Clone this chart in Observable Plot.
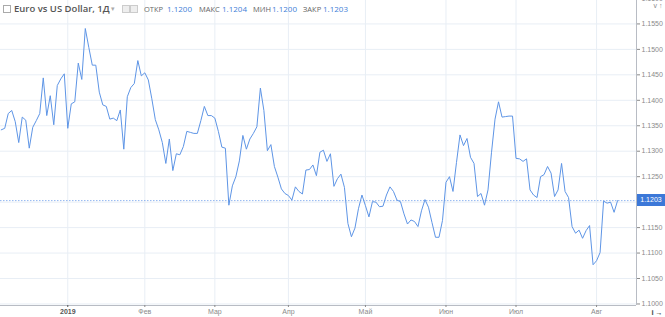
<!DOCTYPE html>
<html><head><meta charset="utf-8">
<script src="https://cdn.jsdelivr.net/npm/d3@7"></script>
<script src="https://cdn.jsdelivr.net/npm/@observablehq/plot@0.6"></script>
<style>
body{margin:0;background:#fff;}
#wrap{position:relative;width:665px;height:317px;overflow:hidden;background:#fff;}
#title span{position:absolute;top:2px;white-space:nowrap;font-family:"Open Sans",sans-serif;line-height:14px;}
.t{font-size:9.5px;font-weight:600;color:#555;}
.l{font-size:7.5px;color:#666;}
.a{font-size:7px;color:#aaa;}
.v{font-size:8px;color:#3f7fd8;}
.ic{display:inline-block;width:6px;height:6px;border:1px solid #aaa;top:5px !important;}
.ic2{display:inline-block;width:6px;height:6px;border:1px solid #ccc;background:#eee;top:5px !important;}
#price{position:absolute;background:#3c78d8;color:#fff;font-family:'Liberation Sans',Arial,sans-serif;font-size:7px;line-height:12px;height:12px;text-align:center;}
</style></head><body>
<div id="wrap"><div id="chart"></div>
<div id="title"></div><div id="price"></div></div>
<script>
const closes = [
1.1342,1.1345,1.1374,1.1380,1.1358,1.1317,1.1367,1.1361,1.1306,1.1347,
1.1360,1.1374,1.1444,1.1370,1.1409,1.1352,1.1429,1.1442,1.1452,1.1345,
1.1393,1.1397,1.1473,1.1441,1.1541,1.1504,1.1469,1.1469,1.1416,1.1391,
1.1388,1.1363,1.1365,1.1360,1.1381,1.1304,1.1407,1.1425,1.1433,1.1478,
1.1448,1.1454,1.1440,1.1403,1.1362,1.1342,1.1317,1.1276,1.1324,1.1262,
1.1295,1.1293,1.1309,1.1339,1.1337,1.1335,1.1335,1.1360,1.1388,1.1370,
1.1370,1.1365,1.1339,1.1308,1.1306,1.1194,1.1232,1.1250,1.1281,1.1331,
1.1304,1.1324,1.1335,1.1348,1.1424,1.1380,1.1301,1.1313,1.1270,1.1249,
1.1226,1.1217,1.1213,1.1204,1.1230,1.1221,1.1216,1.1263,1.1264,1.1273,
1.1252,1.1298,1.1302,1.1280,1.1295,1.1231,1.1246,1.1255,1.1229,1.1158,
1.1132,1.1149,1.1187,1.1214,1.1193,1.1171,1.1201,1.1200,1.1191,1.1192,
1.1214,1.1230,1.1221,1.1204,1.1201,1.1177,1.1157,1.1165,1.1162,1.1152,
1.1183,1.1205,1.1190,1.1160,1.1131,1.1131,1.1164,1.1239,1.1250,1.1221,
1.1278,1.1332,1.1311,1.1325,1.1288,1.1276,1.1211,1.1217,1.1194,1.1224,
1.1298,1.1363,1.1397,1.1367,1.1368,1.1369,1.1369,1.1286,1.1285,1.1280,
1.1285,1.1224,1.1214,1.1209,1.1250,1.1254,1.1270,1.1257,1.1211,1.1224,
1.1276,1.1221,1.1209,1.1152,1.1139,1.1145,1.1129,1.1144,1.1154,1.1077,
1.1085,1.1101,1.1202,1.1198,1.1200,1.1180,1.1203
];
const monthTicks = [19, 41, 61, 82, 104, 127, 147, 170];
const monthLabels = ["2019", "Фев", "Мар", "Апр", "Май", "Июн", "Июл", "Авг"];
const yTicks = [1.100,1.105,1.110,1.115,1.120,1.125,1.130,1.135,1.140,1.145,1.150,1.155,1.160];
const titleText = "Euro vs US Dollar, 1Д";
const ohlcLabels = ["ОТКР", "МАКС", "МИН", "ЗАКР"];
const ohlcValues = ["1.1200", "1.1204", "1.1200", "1.1203"];

const data = closes.map((v, i) => ({i, v}));
const last = closes[closes.length - 1];
const xDomain = [-0.21, 181.4];
const yDomain = [1.0997, 1.1596];
const W = 665, H = 317, MR = 29, MB = 12;
const gridColor = "#e8eef5";
const axisColor = "#b8bcc4";
const lineColor = "#5e95e6";

const chart = Plot.plot({
  width: W, height: H,
  marginLeft: 0, marginRight: MR, marginTop: 0, marginBottom: MB,
  style: {background: "#fff", fontFamily: "'Liberation Sans', Arial, sans-serif"},
  x: {domain: xDomain, axis: null},
  y: {domain: yDomain, axis: null},
  marks: [
    Plot.gridY(yTicks, {stroke: gridColor, strokeOpacity: 1}),
    Plot.gridX(monthTicks, {stroke: gridColor, strokeOpacity: 1}),
    Plot.ruleY([last], {stroke: "#4a86e8", strokeDasharray: "1.5,1.5", strokeOpacity: 0.6}),
    Plot.line(data, {x: "i", y: "v", stroke: lineColor, strokeWidth: 1}),
    Plot.ruleX([xDomain[1]], {stroke: axisColor}),
    Plot.ruleY([yDomain[0]], {stroke: axisColor}),
    Plot.axisY(yTicks.filter(t => Math.abs(t - last) > 0.002), {anchor: "right", tickFormat: d3.format(".4f"), tickSize: 3, tickPadding: 2, fontSize: 7, color: "#8a8a8a"}),
    Plot.axisX(monthTicks.slice(1), {tickFormat: d => monthLabels[monthTicks.indexOf(d)], tickSize: 2, tickPadding: 2, fontSize: 7, color: "#8a8a8a"}),
    Plot.axisX(monthTicks.slice(0, 1), {tickFormat: d => monthLabels[monthTicks.indexOf(d)], tickSize: 2, tickPadding: 2, fontSize: 7, fontWeight: "bold", color: "#555"})
  ]
});
document.getElementById("chart").appendChild(chart);

// price label on the right axis, placed with the plot's own y scale
const yy = chart.scale("y").apply(last);
const price = document.getElementById("price");
price.style.left = (W - MR + 1) + "px";
price.style.width = (MR - 1) + "px";
price.style.top = (yy - 6) + "px";
price.textContent = last.toFixed(4);

// header
const title = document.getElementById("title");
function add(cls, left, txt) { const s = document.createElement("span"); s.className = cls; s.style.left = left + "px"; s.textContent = txt; title.appendChild(s); }
add("ic", 3, "");
add("t", 14, titleText);
add("a", 111, "▾");
add("ic2", 122, "");
add("ic2", 130, "");
const labelX = [144, 199, 253, 303], valueX = [167, 222, 272, 323];
ohlcLabels.forEach((l, k) => { add("l", labelX[k], l); add("v", valueX[k], ohlcValues[k]); });
</script>
</body></html>
